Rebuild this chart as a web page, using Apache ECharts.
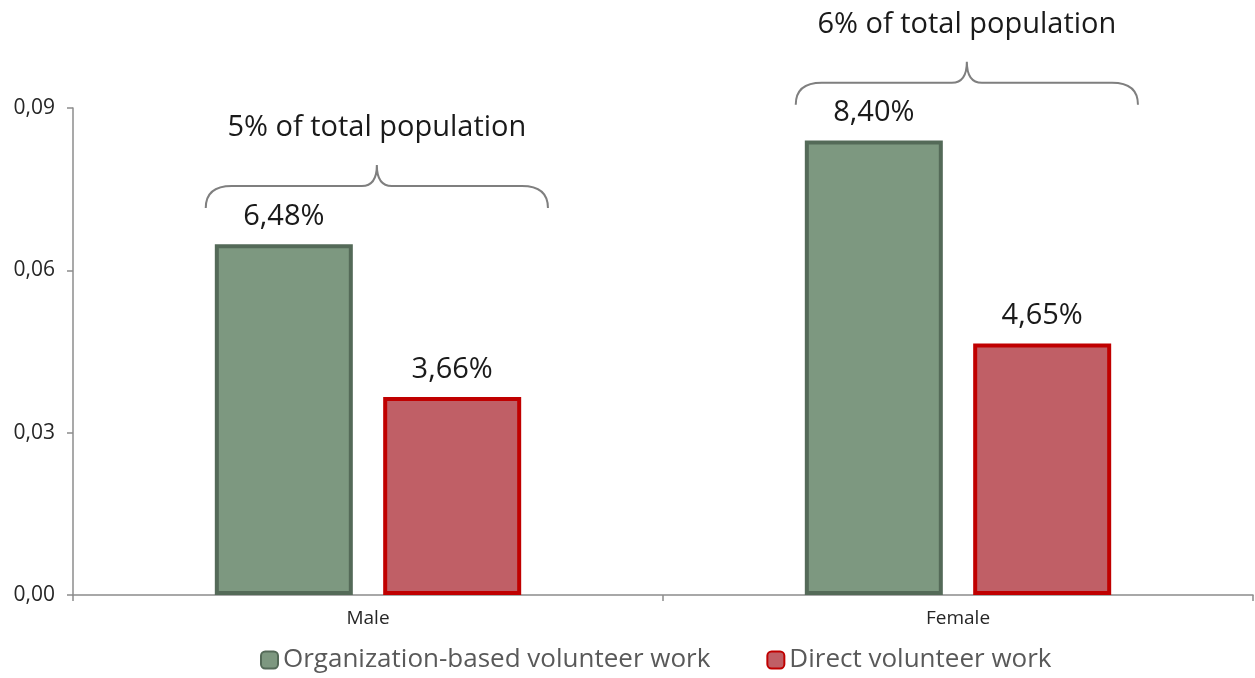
<!DOCTYPE html>
<html>
<head>
<meta charset="utf-8">
<script src="https://cdn.jsdelivr.net/npm/echarts@6/dist/echarts.min.js"></script>
<style>
  html, body { margin: 0; padding: 0; background: #ffffff; }
  #chart { width: 1255px; height: 678px; }
</style>
</head>
<body>
<div id="chart"></div>
<script>
// Share of the population doing volunteer work, by gender
const categories = ['Male', 'Female'];
const seriesNames = ['Organization-based volunteer work', 'Direct volunteer work'];
const orgBased = [0.0648, 0.0840];
const direct = [0.0366, 0.0465];
const yTicks = [0, 0.03, 0.06, 0.09];

// Curly braces grouping both bars of a category: [category index, value at the brace ends, caption]
const braceData = [
  [0, 0.0715, '5% of total population'],
  [1, 0.0906, '6% of total population']
];

const pctLabel = v => (v * 100).toFixed(2).replace('.', ',') + '%';
const tickLabel = v => v.toFixed(2).replace('.', ',');
const FONT = '"Open Sans", "Noto Sans", sans-serif';

const chart = echarts.init(document.getElementById('chart'), null, { renderer: 'canvas' });

function renderBrace(params, api) {
  const cat = api.value(0);
  const val = api.value(1);
  const caption = braceData[params.dataIndex][2];
  const base = api.coord([cat, val]);
  const catW = api.size([1, 0])[0];
  const cx = base[0] + catW * 0.015;
  const half = catW * 0.29;
  const x0 = cx - half, x1 = cx + half;
  const yb = base[1];
  const yh = yb - 22;
  const yp = yb - 43;
  const r = 26, r2 = 15;
  const d = [
    'M', x0, yb,
    'Q', x0, yh, x0 + r, yh,
    'L', cx - r2, yh,
    'Q', cx, yh, cx, yp,
    'Q', cx, yh, cx + r2, yh,
    'L', x1 - r, yh,
    'Q', x1, yh, x1, yb
  ].join(' ');
  return {
    type: 'group',
    children: [
      {
        type: 'path',
        shape: { pathData: d },
        style: { fill: 'none', stroke: '#7f7f7f', lineWidth: 2 }
      },
      {
        type: 'text',
        x: cx,
        y: yp - 37,
        style: {
          text: caption,
          fill: '#1a1a1a',
          font: '29px ' + FONT,
          align: 'center',
          verticalAlign: 'middle'
        }
      }
    ]
  };
}

const option = {
  backgroundColor: '#ffffff',
  animation: false,
  grid: { left: 73, right: 2, top: 108, bottom: 83, containLabel: false },
  legend: {
    bottom: 0,
    left: 255,
    itemWidth: 17,
    itemHeight: 17,
    itemGap: 56,
    icon: 'roundRect',
    textStyle: { color: '#595959', fontSize: 26, fontFamily: FONT },
    data: seriesNames
  },
  xAxis: {
    type: 'category',
    data: categories,
    axisLine: { lineStyle: { color: '#8c8c8c', width: 1.5 } },
    axisTick: { show: true, length: 6, lineStyle: { color: '#8c8c8c', width: 1.5 } },
    axisLabel: { color: '#262626', fontSize: 19, fontFamily: FONT, margin: 14 }
  },
  yAxis: {
    type: 'value',
    min: yTicks[0],
    max: yTicks[yTicks.length - 1],
    interval: yTicks[1] - yTicks[0],
    splitLine: { show: false },
    axisLine: { show: true, lineStyle: { color: '#8c8c8c', width: 1.5 } },
    axisTick: { show: true, length: 6, lineStyle: { color: '#8c8c8c', width: 1.5 } },
    axisLabel: { color: '#262626', fontSize: 21, fontFamily: FONT, margin: 18, formatter: tickLabel }
  },
  series: [
    {
      name: seriesNames[0],
      type: 'bar',
      data: orgBased,
      barWidth: 138,
      barGap: '22%',
      itemStyle: { color: '#7d9880', borderColor: '#546a58', borderWidth: 4 },
      label: {
        show: true, position: 'top', distance: 13,
        color: '#1a1a1a', fontSize: 29, fontFamily: FONT,
        formatter: p => pctLabel(p.value)
      }
    },
    {
      name: seriesNames[1],
      type: 'bar',
      data: direct,
      barWidth: 138,
      itemStyle: { color: '#c05f66', borderColor: '#c00000', borderWidth: 4 },
      label: {
        show: true, position: 'top', distance: 13,
        color: '#1a1a1a', fontSize: 29, fontFamily: FONT,
        formatter: p => pctLabel(p.value)
      }
    },
    {
      type: 'custom',
      renderItem: renderBrace,
      data: braceData.map(b => [b[0], b[1]]),
      clip: false,
      silent: true,
      z: 5
    }
  ]
};

chart.setOption(option);
</script>
</body>
</html>
